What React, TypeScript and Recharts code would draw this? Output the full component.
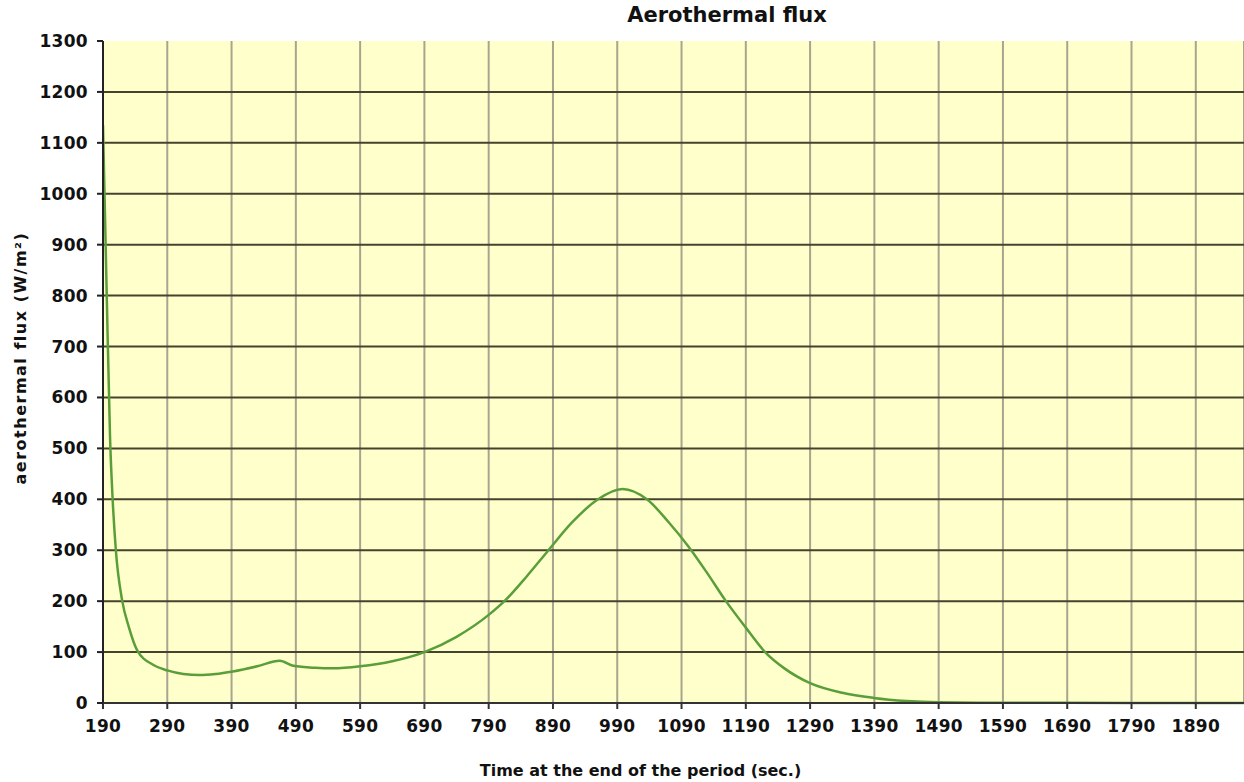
import React from "react";
import {
  LineChart,
  Line,
  XAxis,
  YAxis,
  CartesianGrid,
  Label,
} from "recharts";

// time at end of period (sec.)
const times = [
  190, 196, 201, 205, 210, 220, 230, 243, 268, 290, 315, 340, 365, 392, 430,
  465, 486, 520, 548, 590, 640, 690, 740, 790, 816, 850, 883, 920, 959, 998,
  1037, 1070, 1101, 1130, 1158, 1190, 1220, 1250, 1290, 1340, 1389, 1440, 1490,
  1590, 1690, 1790, 1890, 1965,
];

// aerothermal flux (W/m²)
const flux = [
  1135, 790, 520, 400, 300, 200, 150, 104, 75, 64, 57, 55, 57, 62, 72, 83, 73,
  69, 68, 72, 82, 100, 130, 173, 202, 250, 300, 355, 399, 420, 399, 355, 307,
  255, 202, 148, 100, 68, 39, 20, 10, 4, 1.5, 0.5, 0.3, 0.2, 0.2, 0.2,
];

const xTicks = [
  190, 290, 390, 490, 590, 690, 790, 890, 990, 1090, 1190, 1290, 1390, 1490,
  1590, 1690, 1790, 1890,
];
const yTicks = [0, 100, 200, 300, 400, 500, 600, 700, 800, 900, 1000, 1100, 1200, 1300];

const data = times.map((t, i) => ({ t, flux: flux[i] }));

const font = "'DejaVu Sans', Verdana, sans-serif";
const tickStyle = {
  fontSize: 17,
  fontWeight: 700,
  fill: "#111",
  fontFamily: font,
  letterSpacing: 0.3,
};

const YTitle = () => (
  <text
    transform="translate(20,358) rotate(-90)"
    textAnchor="middle"
    dominantBaseline="central"
    style={{
      fontSize: 16,
      fontWeight: 700,
      fill: "#111",
      fontFamily: font,
      letterSpacing: 1.5,
    }}
  >
    aerothermal flux (W/m²)
  </text>
);

export default function App() {
  return (
    <div
      style={{
        position: "absolute",
        left: 0,
        top: 0,
        width: 1244,
        height: 782,
        background: "#fff",
        fontFamily: font,
      }}
    >
      <div
        style={{
          position: "absolute",
          top: 3,
          left: 540,
          width: 374,
          textAlign: "center",
          fontSize: 21,
          fontWeight: 700,
          color: "#111",
        }}
      >
        Aerothermal flux
      </div>
      <LineChart
        width={1244}
        height={782}
        data={data}
        margin={{ top: 41, right: 0, left: 0, bottom: 0 }}
      >
        <CartesianGrid
          fill="#ffffcc"
          stroke="#a8a58e"
          strokeWidth={2}
          horizontal={false}
          vertical={true}
        />
        <CartesianGrid
          stroke="#45432e"
          strokeWidth={2}
          horizontal={true}
          vertical={false}
          horizontalValues={yTicks.filter((v) => v > 0 && v < 1300)}
        />
        <XAxis
          dataKey="t"
          type="number"
          domain={[190, 1965]}
          ticks={xTicks}
          allowDataOverflow
          height={79}
          tick={tickStyle}
          tickSize={6}
          tickMargin={11}
          stroke="#333"
          strokeWidth={2}
        >
          <Label
            value="Time at the end of the period (sec.)"
            position="insideBottom"
            offset={6}
            dx={-33}
            style={{ fontSize: 16, fontWeight: 700, fill: "#111", fontFamily: font }}
          />
        </XAxis>
        <YAxis
          type="number"
          domain={[0, 1300]}
          ticks={yTicks}
          width={103}
          tick={tickStyle}
          tickSize={6}
          tickMargin={9}
          stroke="#222"
          strokeWidth={2}
        >
          <Label content={<YTitle />} />
        </YAxis>
        <Line
          type="monotone"
          dataKey="flux"
          stroke="#5a9e3a"
          strokeWidth={2.5}
          dot={false}
          isAnimationActive={false}
        />
      </LineChart>
    </div>
  );
}
